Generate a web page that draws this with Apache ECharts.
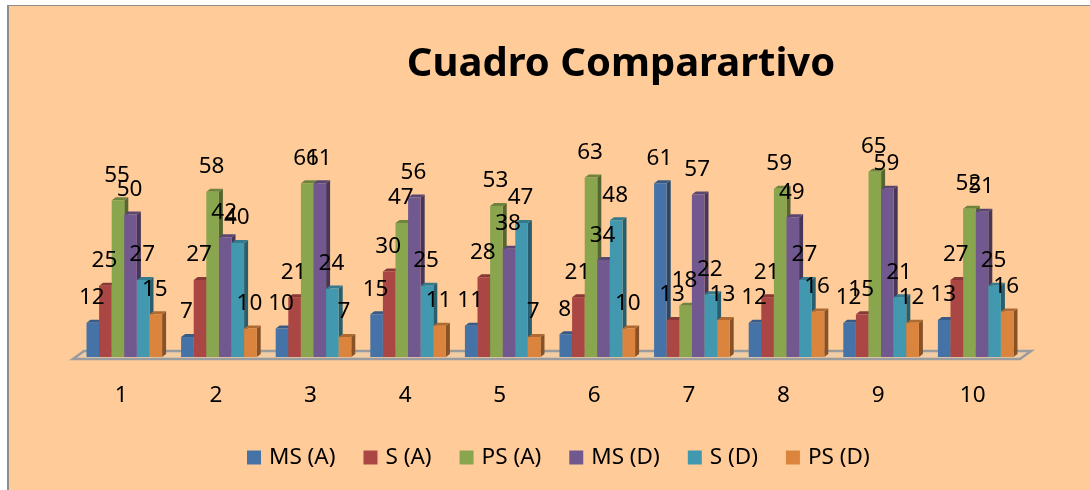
<!DOCTYPE html>
<html><head><meta charset="utf-8">
<style>html,body{margin:0;padding:0;background:#fff}#c{width:1090px;height:490px}</style>
<script src="https://cdn.jsdelivr.net/npm/echarts@6/dist/echarts.min.js"></script>
</head><body><div id="c"></div>
<script>
const categories = ['1','2','3','4','5','6','7','8','9','10'];
const seriesNames = ['MS (A)','S (A)','PS (A)','MS (D)','S (D)','PS (D)'];
const msA = [12,7,10,15,11,8,61,12,12,13];
const sA  = [25,27,21,30,28,21,13,21,15,27];
const psA = [55,58,61,47,53,63,18,59,65,52];
const msD = [50,42,61,56,38,34,57,49,59,51];
const sD  = [27,40,24,25,47,48,22,27,21,25];
const psD = [15,10,7,11,7,10,13,16,12,16];
const seriesValues = [msA,sA,psA,msD,sD,psD];
const colors = ['#4572A7','#AA4643','#89A54E','#71588F','#4198AF','#DB843D'];
const FONT = '"Noto Sans"';
const BAR = 12.6, DX = 4, DY = 3, SHIFT = 3;

function shade(hex, k){
  const n = parseInt(hex.slice(1),16);
  const f = v => Math.round(v*k);
  return `rgb(${f(n>>16&255)},${f(n>>8&255)},${f(n&255)})`;
}
function bar3d(si){
  return function(params, api){
    const cat = api.value(0), val = api.value(1);
    const base = api.coord([cat,0]);
    const top = api.coord([cat,val]);
    const x0 = base[0] + SHIFT + (si-3)*BAR, x1 = x0 + BAR;
    const yb = base[1], yt = top[1];
    const c = colors[si];
    const poly = (pts,fill)=>({type:'polygon',shape:{points:pts},style:{fill},silent:true});
    return {type:'group',children:[
      poly([[x1,yb],[x1+DX,yb-DY],[x1+DX,yt-DY],[x1,yt]],shade(c,0.62)),
      poly([[x0,yt],[x0+DX,yt-DY],[x1+DX,yt-DY],[x1,yt]],shade(c,0.8)),
      {type:'rect',shape:{x:x0,y:yt,width:BAR,height:yb-yt},style:{fill:c}}
    ]};
  };
}
function label3d(si){
  return function(params, api){
    const cat = api.value(0), val = api.value(1);
    const p = api.coord([cat,val]);
    return {type:'text',silent:true,style:{
      x:p[0] + SHIFT + (si-2.5)*BAR - 1, y:p[1]-25, text:String(val),
      fill:'#000',font:`22.5px ${FONT}`,align:'center',verticalAlign:'middle'}};
  };
}
const floorSeries = {
  type:'custom', silent:true, z:1, legendHoverLink:false,
  data: categories.map((_,i)=>[i,0]),
  encode:{x:0,y:1},
  renderItem(params, api){
    if(params.dataIndex!==0) return null;
    const s = api.coord([0,0]), e = api.coord([categories.length-1,0]);
    const half = api.size([1,0])[0]/2;
    const l = s[0]-half-1, r = e[0]+half, y = s[1]+2;
    return {type:'polygon',shape:{points:[[l,y],[l+11,y-8],[r+11,y-8],[r,y]]},
      style:{fill:'#F2CDA4',stroke:'#9A9C9E',lineWidth:2.6}};
  }
};
const barSeries = seriesValues.map((vals,si)=>({
  type:'custom',name:seriesNames[si],z:2+si,
  itemStyle:{color:colors[si]},
  data:vals.map((v,i)=>[i,v]),
  encode:{x:0,y:1},
  renderItem:bar3d(si)
}));
const labelSeries = seriesValues.map((vals,si)=>({
  type:'custom',z:20+si,silent:true,
  data:vals.map((v,i)=>[i,v]),
  encode:{x:0,y:1},
  renderItem:label3d(si)
}));
const option = {
  animation:false,
  backgroundColor:'#fff',
  title:{text:'Cuadro Comparartivo',left:616,top:40,textAlign:'center',
    textStyle:{fontFamily:FONT,fontWeight:'bold',fontSize:40,color:'#000'}},
  legend:{data:seriesNames,left:242,top:441,itemWidth:14,itemHeight:14,itemGap:28,icon:'rect',
    textStyle:{fontFamily:FONT,fontSize:22.5,color:'#000',padding:[0,0,0,3]}},
  grid:{left:74,right:70,top:157.5,height:199.5},
  xAxis:{type:'category',data:categories,axisLine:{show:false},axisTick:{show:false},
    axisLabel:{fontFamily:FONT,fontSize:22.5,color:'#000',margin:27}},
  yAxis:{type:'value',min:0,max:70,show:false,splitLine:{show:false}},
  graphic:[
    {type:'rect',silent:true,z:-10,shape:{x:7,y:5,width:1083,height:485},style:{fill:'#8E8E8E'}},
    {type:'rect',silent:true,z:-9,shape:{x:9,y:6,width:1081,height:484},style:{fill:'#FFCC99'}}
  ],
  series:[floorSeries].concat(barSeries,labelSeries)
};
echarts.init(document.getElementById('c')).setOption(option);
</script></body></html>
